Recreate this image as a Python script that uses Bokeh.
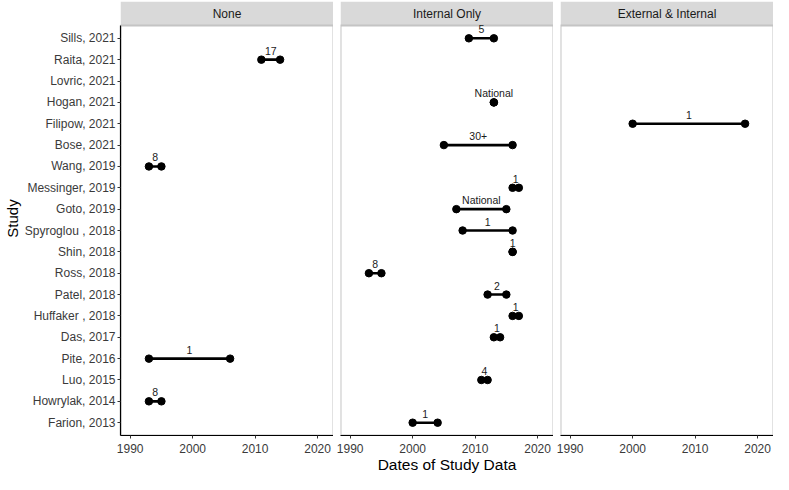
from bokeh.plotting import figure
from bokeh.models import Range1d, FixedTicker, ColumnDataSource
from bokeh.layouts import row
from bokeh.embed import file_html
from bokeh.resources import INLINE
from bokeh.core.properties import value

# ---------------- data ----------------
studies = ["Sills, 2021", "Raita, 2021", "Lovric, 2021", "Hogan, 2021", "Filipow, 2021",
           "Bose, 2021", "Wang, 2019", "Messinger, 2019", "Goto, 2019", "Spyroglou , 2018",
           "Shin, 2018", "Ross, 2018", "Patel, 2018", "Huffaker , 2018", "Das, 2017",
           "Pite, 2016", "Luo, 2015", "Howrylak, 2014", "Farion, 2013"]
panels = ["None", "Internal Only", "External & Internal"]

rec_study = ["Raita, 2021", "Wang, 2019", "Pite, 2016", "Howrylak, 2014",
             "Sills, 2021", "Hogan, 2021", "Bose, 2021", "Messinger, 2019", "Goto, 2019",
             "Spyroglou , 2018", "Shin, 2018", "Ross, 2018", "Patel, 2018", "Huffaker , 2018",
             "Das, 2017", "Luo, 2015", "Farion, 2013",
             "Filipow, 2021"]
rec_panel = ["None", "None", "None", "None",
             "Internal Only", "Internal Only", "Internal Only", "Internal Only", "Internal Only",
             "Internal Only", "Internal Only", "Internal Only", "Internal Only", "Internal Only",
             "Internal Only", "Internal Only", "Internal Only",
             "External & Internal"]
rec_start = [2011, 1993, 1993, 1993,
             2009, 2013, 2005, 2016, 2007, 2008, 2016, 1993, 2012, 2016, 2013, 2011, 2000,
             2000]
rec_end = [2014, 1995, 2006, 1995,
           2013, 2013, 2016, 2017, 2015, 2016, 2016, 1995, 2015, 2017, 2014, 2012, 2004,
           2018]
rec_label = ["17", "8", "1", "8",
             "5", "National", "30+", "1", "National", "1", "1", "8", "2", "1", "1", "4", "1",
             "1"]

x_ticks = [1990, 2000, 2010, 2020]
x_limits = [1990, 2021]

# ---------------- layout constants ----------------
FONT = "Liberation Sans"
FRAME_W = 213
FRAME_H = 434
STRIP_PX = 24
GAP = 7

n = len(studies)
ypos = {s: n - i for i, s in enumerate(studies)}
y_lo, y_hi = 0.4, n + 0.6
panel_px = FRAME_H - STRIP_PX
px_per_unit = panel_px / (y_hi - y_lo)
y_top = y_hi + STRIP_PX / px_per_unit

span = x_limits[1] - x_limits[0]
x_lo = x_limits[0] - 0.05 * span
x_hi = x_limits[1] + 0.05 * span

figs = []
for k, pname in enumerate(panels):
    first = (k == 0)
    p = figure(frame_width=FRAME_W, frame_height=FRAME_H,
               x_range=Range1d(x_lo, x_hi), y_range=Range1d(y_lo, y_top),
               output_backend="svg", toolbar_location=None,
               y_axis_location="left" if first else None,
               min_border_top=1, min_border_bottom=0,
               min_border_left=0 if first else GAP,
               min_border_right=0,
               background_fill_color="white", border_fill_color="white")
    p.outline_line_color = None
    p.xgrid.visible = False
    p.ygrid.visible = False

    # strip
    p.quad(left=[x_lo], right=[x_hi], bottom=[y_hi], top=[y_top],
           fill_color="#D9D9D9", line_color=None)
    p.text(x=[(x_lo + x_hi) / 2], y=[(y_hi + y_top) / 2], text=[pname],
           text_align="center", text_baseline="middle",
           text_font=value(FONT), text_font_size="12px", text_color="#1A1A1A")

    # panel border (light grey)
    p.quad(left=[x_lo], right=[x_hi], bottom=[y_lo], top=[y_hi],
           fill_color=None, line_color="#C4C4C4", line_width=2)

    # data
    idx = [i for i, pp in enumerate(rec_panel) if pp == pname]
    src = ColumnDataSource(dict(
        y=[ypos[rec_study[i]] for i in idx],
        x0=[rec_start[i] for i in idx],
        x1=[rec_end[i] for i in idx],
        xm=[(rec_start[i] + rec_end[i]) / 2 for i in idx],
        lab=[rec_label[i] for i in idx],
    ))
    p.segment(x0="x0", y0="y", x1="x1", y1="y", source=src, line_color="black", line_width=2.6)
    p.scatter(x="x0", y="y", source=src, size=7.5, color="black")
    p.scatter(x="x1", y="y", source=src, size=7.5, color="black")
    p.text(x="xm", y="y", text="lab", source=src, y_offset=-9,
           text_align="center", text_baseline="middle",
           text_font=value(FONT), text_font_size="10.5px", text_color="#1A1A1A")

    # x axis
    ax = p.xaxis[0]
    ax.ticker = FixedTicker(ticks=x_ticks, minor_ticks=[])
    ax.axis_line_color = "black"
    ax.axis_line_width = 1.2
    ax.major_tick_in = 0
    ax.major_tick_out = 3
    ax.major_tick_line_color = "#333333"
    ax.minor_tick_line_color = None
    ax.major_label_standoff = 5
    ax.major_label_text_font = FONT
    ax.major_label_text_font_size = "12px"
    ax.major_label_text_color = "#3A3A3A"
    ax.axis_label = "Dates of Study Data"
    ax.axis_label_standoff = 0
    ax.axis_label_text_font = FONT
    ax.axis_label_text_font_size = "15.5px"
    ax.axis_label_text_font_style = "normal"
    ax.axis_label_text_color = "black" if k == 1 else None

    if first:
        ay = p.yaxis[0]
        ay.ticker = FixedTicker(ticks=list(range(1, n + 1)), minor_ticks=[])
        ay.major_label_overrides = {ypos[s]: s for s in studies}
        ay.bounds = (y_lo, y_hi)
        ay.axis_line_color = "black"
        ay.axis_line_width = 1.2
        ay.major_tick_in = 0
        ay.major_tick_out = 3
        ay.major_tick_line_color = "#333333"
        ay.minor_tick_line_color = None
        ay.major_label_standoff = 2
        ay.major_label_text_font = FONT
        ay.major_label_text_font_size = "12px"
        ay.major_label_text_color = "#3A3A3A"
        ay.axis_label = "Study"
        ay.axis_label_standoff = 1
        ay.axis_label_text_font = FONT
        ay.axis_label_text_font_size = "15px"
        ay.axis_label_text_font_style = "normal"
        ay.axis_label_text_color = "black"
    figs.append(p)

layout = row(*figs)
with open("out.html", "w") as f:
    f.write(file_html(layout, INLINE))
